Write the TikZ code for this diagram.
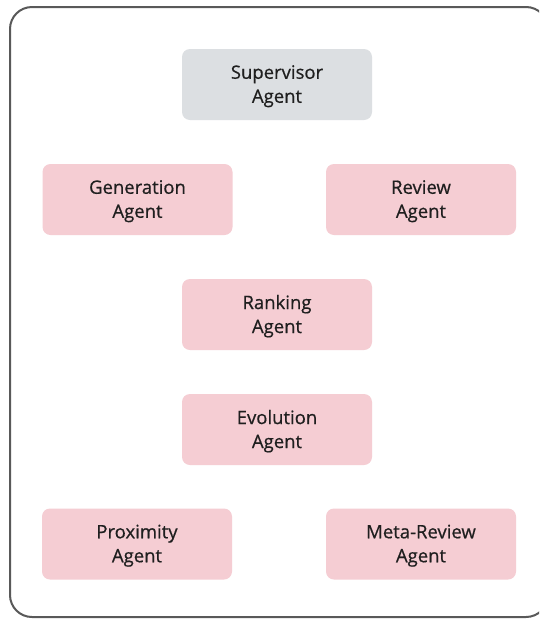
\documentclass[tikz,border=0pt]{standalone}
\usepackage{fontspec}
\setmainfont{Open Sans}
\newfontfamily\labelfont[FakeBold=0.6]{Open Sans}
\begin{document}
\begin{tikzpicture}[x=1pt,y=-1pt,
  agent/.style={rounded corners=8pt, minimum width=190pt, minimum height=71pt,
    align=center, text=black!88, font=\labelfont\fontsize{18.5}{24}\selectfont,
    inner sep=0pt, text depth=1pt},
  pinkbox/.style={agent, fill=agentpink},
  greybox/.style={agent, fill=supergrey},
  frame/.style={draw=black!65, line width=2pt, rounded corners=22pt}]
\definecolor{agentpink}{HTML}{F5CDD3}
\definecolor{supergrey}{HTML}{DCDFE2}
\useasboundingbox (0,0) rectangle (539,619);
\clip (0,0) rectangle (539,619);
\fill[white] (0,0) rectangle (539,619);
% outer frame
\draw[frame] (10,7) rectangle (548,617);
% agents
\node[greybox] (sup) at (277,84.5) {Supervisor\\Agent};
\node[pinkbox] (gen) at (137.5,199.5) {Generation\\Agent};
\node[pinkbox] (rev) at (421,199.5) {Review\\Agent};
\node[pinkbox] (rank) at (277,314.5) {Ranking\\Agent};
\node[pinkbox] (evo) at (277,429.5) {Evolution\\Agent};
\node[pinkbox] (prox) at (137,544) {Proximity\\Agent};
\node[pinkbox] (meta) at (421,544) {Meta-Review\\Agent};
\end{tikzpicture}
\end{document}
